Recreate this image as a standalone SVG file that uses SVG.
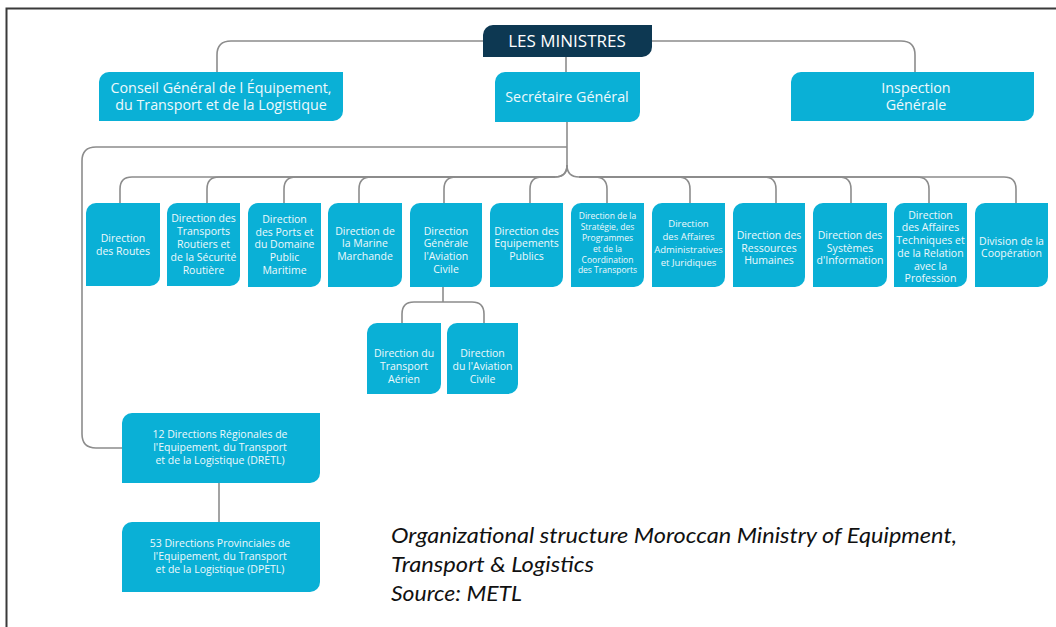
<svg xmlns="http://www.w3.org/2000/svg" width="1056" height="627" viewBox="0 0 1056 627">
<style>
.bg{fill:#ffffff}
.frame{stroke:#3a3a3a;stroke-width:2;fill:none}
.box{fill:#0ab0d6}
.top{fill:#0d3852}
.conn path{fill:none;stroke:#8c8c8c;stroke-width:1.6}
text{font-family:"Open Sans","DejaVu Sans",sans-serif;fill:#eef9fc;text-anchor:middle}
.t13{font-size:14.3px}
.t15{font-size:17px;fill:#ffffff}
.t10{font-size:10.5px}
.t9{font-size:9.5px}
.t8{font-size:8.5px}
.cap{font-family:Lato,"Liberation Sans",sans-serif;font-style:italic;font-size:22px;fill:#111;text-anchor:start}
</style>
<rect class="bg" x="0" y="0" width="1056" height="627"/>
<path class="frame" d="M6.5,627 V8.5 H1056"/>

<g id="connectors" class="conn">
<path d="M483,41 H231 Q217,41 217,55 V72"/>
<path d="M652,41 H901 Q915,41 915,55 V72"/>
<path d="M566,57 V72"/>
<path d="M567,122 V147"/>
<path d="M567,147 H96 Q82,147 82,161 V434 Q82,448 96,448 H122"/>
<path d="M567,147 V165 Q567,177 555,177 H132 Q120,177 120,189 V203"/>
<path d="M567,165 Q567,177 555,177 H219 Q207,177 207,189 V203"/>
<path d="M555,177 H296 Q284,177 284,189 V203"/>
<path d="M555,177 H371 Q359,177 359,189 V203"/>
<path d="M555,177 H456 Q444,177 444,189 V203"/>
<path d="M555,177 H542 Q530,177 530,189 V203"/>
<path d="M567,165 Q567,177 579,177 H1004 Q1016,177 1016,189 V203"/>
<path d="M579,177 H595 Q607,177 607,189 V203"/>
<path d="M579,177 H678 Q690,177 690,189 V203"/>
<path d="M579,177 H764 Q776,177 776,189 V203"/>
<path d="M579,177 H839 Q851,177 851,189 V203"/>
<path d="M579,177 H917 Q929,177 929,189 V203"/>
<path d="M443,287 V302"/>
<path d="M443,302 H414 Q402,302 402,314 V323"/>
<path d="M443,302 H472 Q484,302 484,314 V323"/>
<path d="M219,483 V522"/>
</g>

<g id="n-ministres">
<path class="top" d="M483,35 A10,10 0 0 1 493,25 H652 V47 A10,10 0 0 1 642,57 H483 Z"/>
<text class="t15" x="567" y="47">LES MINISTRES</text>
</g>
<g id="n-conseil">
<path class="box" d="M99,82 A10,10 0 0 1 109,72 H343 V111 A10,10 0 0 1 333,121 H99 Z"/>
<text class="t13" x="221" y="92.5">Conseil Général de l Équipement,</text>
<text class="t13" x="221" y="109.5">du Transport et de la Logistique</text>
</g>
<g id="n-sg">
<path class="box" d="M495,82 A10,10 0 0 1 505,72 H640 V112 A10,10 0 0 1 630,122 H495 Z"/>
<text class="t13" x="567" y="101.5">Secrétaire Général</text>
</g>
<g id="n-inspection">
<path class="box" d="M791,82 A10,10 0 0 1 801,72 H1034 V111 A10,10 0 0 1 1024,121 H791 Z"/>
<text class="t13" x="916" y="92.5">Inspection</text>
<text class="t13" x="916" y="109.5">Générale</text>
</g>

<g id="n-routes">
<path class="box" d="M86,213 A10,10 0 0 1 96,203 H160 V276 A10,10 0 0 1 150,286 H86 Z"/>
<text class="t10" x="123" y="241.5">Direction</text>
<text class="t10" x="123" y="254.5">des Routes</text>
</g>
<g id="n-transports-routiers">
<path class="box" d="M167,213 A10,10 0 0 1 177,203 H240 V276 A10,10 0 0 1 230,286 H167 Z"/>
<text class="t10" x="203.5" y="221.5">Direction des</text>
<text class="t10" x="203.5" y="234.5">Transports</text>
<text class="t10" x="203.5" y="247.5">Routiers et</text>
<text class="t10" x="203.5" y="260.5">de la Sécurité</text>
<text class="t10" x="203.5" y="273.5">Routière</text>
</g>
<g id="n-ports">
<path class="box" d="M248,213 A10,10 0 0 1 258,203 H321 V277 A10,10 0 0 1 311,287 H248 Z"/>
<text class="t10" x="284.5" y="222.5">Direction</text>
<text class="t10" x="284.5" y="235.5">des Ports et</text>
<text class="t10" x="284.5" y="247.5">du Domaine</text>
<text class="t10" x="284.5" y="260.5">Public</text>
<text class="t10" x="284.5" y="273.5">Maritime</text>
</g>
<g id="n-marine">
<path class="box" d="M328,213 A10,10 0 0 1 338,203 H402 V277 A10,10 0 0 1 392,287 H328 Z"/>
<text class="t10" x="365" y="234.5">Direction de</text>
<text class="t10" x="365" y="246.5">la Marine</text>
<text class="t10" x="365" y="259.5">Marchande</text>
</g>
<g id="n-dgac">
<path class="box" d="M410,213 A10,10 0 0 1 420,203 H482 V277 A10,10 0 0 1 472,287 H410 Z"/>
<text class="t10" x="446" y="234.5">Direction</text>
<text class="t10" x="446" y="246.5">Générale</text>
<text class="t10" x="446" y="259.5">l'Aviation</text>
<text class="t10" x="446" y="272.5">Civile</text>
</g>
<g id="n-equipements">
<path class="box" d="M490,213 A10,10 0 0 1 500,203 H563 V277 A10,10 0 0 1 553,287 H490 Z"/>
<text class="t10" x="526.5" y="234.5">Direction des</text>
<text class="t10" x="526.5" y="246.5">Equipements</text>
<text class="t10" x="526.5" y="259.5">Publics</text>
</g>
<g id="n-strategie">
<path class="box" d="M571,213 A10,10 0 0 1 581,203 H644 V277 A10,10 0 0 1 634,287 H571 Z"/>
<text class="t8" x="607.5" y="219">Direction de la</text>
<text class="t8" x="607.5" y="230">Stratégie, des</text>
<text class="t8" x="607.5" y="241">Programmes</text>
<text class="t8" x="607.5" y="252">et de la</text>
<text class="t8" x="607.5" y="262.5">Coordination</text>
<text class="t8" x="607.5" y="273">des Transports</text>
</g>
<g id="n-affaires-admin">
<path class="box" d="M652,213 A10,10 0 0 1 662,203 H725 V277 A10,10 0 0 1 715,287 H652 Z"/>
<text class="t9" x="688.5" y="226.5">Direction</text>
<text class="t9" x="688.5" y="240">des Affaires</text>
<text class="t9" x="688.5" y="252.5">Administratives</text>
<text class="t9" x="688.5" y="265.5">et Juridiques</text>
</g>
<g id="n-rh">
<path class="box" d="M733,213 A10,10 0 0 1 743,203 H805 V277 A10,10 0 0 1 795,287 H733 Z"/>
<text class="t10" x="769" y="238.5">Direction des</text>
<text class="t10" x="769" y="251.5">Ressources</text>
<text class="t10" x="769" y="263.5">Humaines</text>
</g>
<g id="n-si">
<path class="box" d="M813,213 A10,10 0 0 1 823,203 H887 V277 A10,10 0 0 1 877,287 H813 Z"/>
<text class="t10" x="850" y="238.5">Direction des</text>
<text class="t10" x="850" y="251.5">Systèmes</text>
<text class="t10" x="850" y="263.5">d'Information</text>
</g>
<g id="n-affaires-tech">
<path class="box" d="M894,213 A10,10 0 0 1 904,203 H967 V277 A10,10 0 0 1 957,287 H894 Z"/>
<text class="t10" x="930.5" y="218.5">Direction</text>
<text class="t10" x="930.5" y="230.5">des Affaires</text>
<text class="t10" x="930.5" y="243.5">Techniques et</text>
<text class="t10" x="930.5" y="256.5">de la Relation</text>
<text class="t10" x="930.5" y="269.5">avec la</text>
<text class="t10" x="930.5" y="281.5">Profession</text>
</g>
<g id="n-cooperation">
<path class="box" d="M975,213 A10,10 0 0 1 985,203 H1048 V277 A10,10 0 0 1 1038,287 H975 Z"/>
<text class="t10" x="1011.5" y="244.5">Division de la</text>
<text class="t10" x="1011.5" y="256.5">Coopération</text>
</g>

<g id="n-transport-aerien">
<path class="box" d="M367,333 A10,10 0 0 1 377,323 H441 V384 A10,10 0 0 1 431,394 H367 Z"/>
<text class="t10" x="404" y="356.5">Direction du</text>
<text class="t10" x="404" y="369.5">Transport</text>
<text class="t10" x="404" y="382.5">Aérien</text>
</g>
<g id="n-aviation-civile">
<path class="box" d="M447,333 A10,10 0 0 1 457,323 H518 V384 A10,10 0 0 1 508,394 H447 Z"/>
<text class="t10" x="482.5" y="356.5">Direction</text>
<text class="t10" x="482.5" y="369.5">du l'Aviation</text>
<text class="t10" x="482.5" y="382.5">Civile</text>
</g>

<g id="n-dretl">
<path class="box" d="M122,423 A10,10 0 0 1 132,413 H320 V473 A10,10 0 0 1 310,483 H122 Z"/>
<text class="t10" x="220" y="437.5">12 Directions Régionales de</text>
<text class="t10" x="220" y="450.5">l'Equipement, du Transport</text>
<text class="t10" x="220" y="463.5">et de la Logistique (DRETL)</text>
</g>
<g id="n-dpetl">
<path class="box" d="M122,532 A10,10 0 0 1 132,522 H320 V582 A10,10 0 0 1 310,592 H122 Z"/>
<text class="t10" x="220" y="546.5">53 Directions Provinciales de</text>
<text class="t10" x="220" y="559.5">l'Equipement, du Transport</text>
<text class="t10" x="220" y="572.5">et de la Logistique (DPETL)</text>
</g>

<g id="caption">
<text class="cap" x="391" y="543" textLength="566" lengthAdjust="spacingAndGlyphs">Organizational structure Moroccan Ministry of Equipment,</text>
<text class="cap" x="391" y="572" textLength="203" lengthAdjust="spacingAndGlyphs">Transport &amp; Logistics</text>
<text class="cap" x="391" y="601" textLength="131" lengthAdjust="spacingAndGlyphs">Source: METL</text>
</g>
</svg>
